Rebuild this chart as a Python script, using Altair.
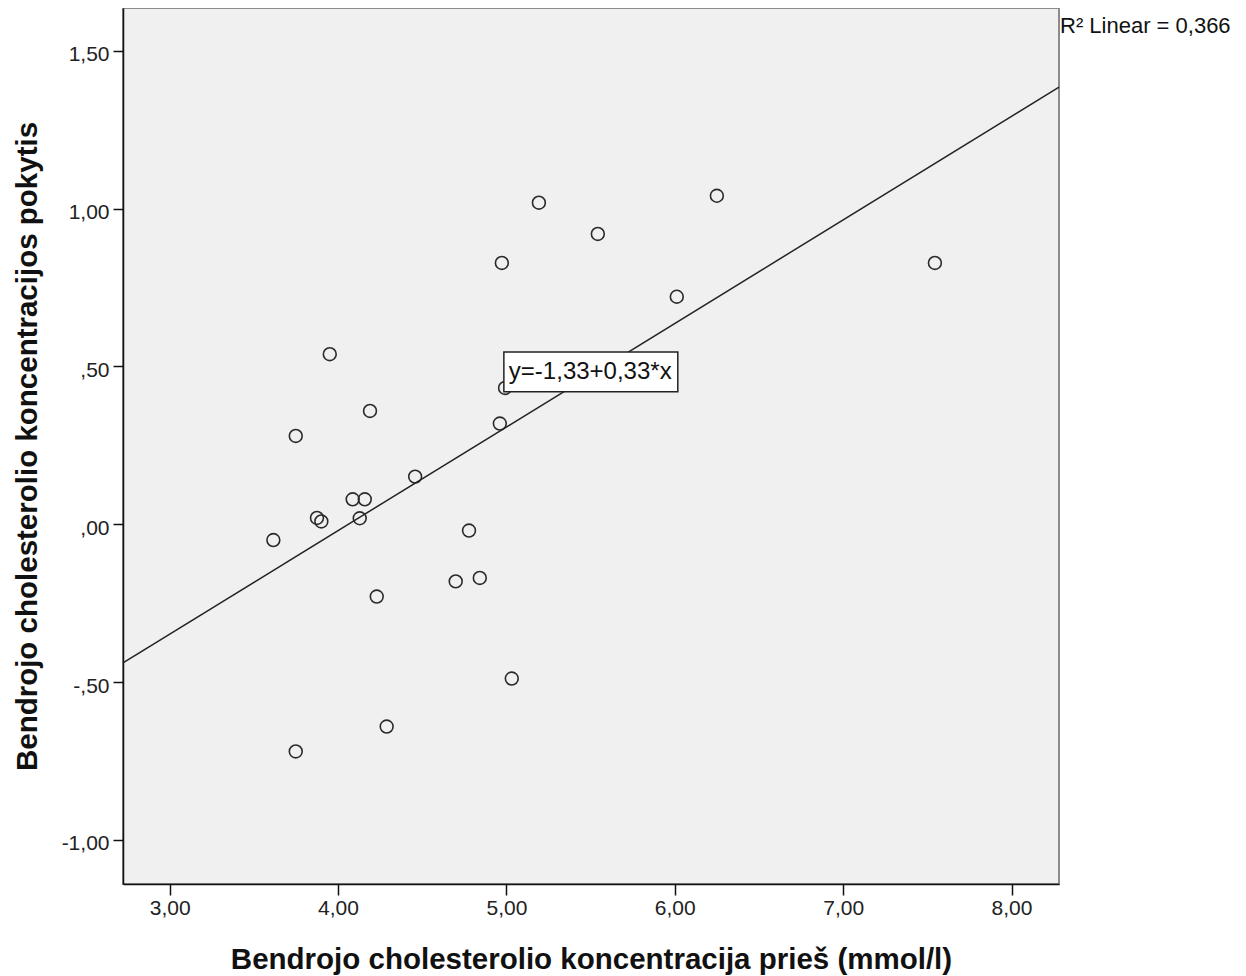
import altair as alt
import pandas as pd

# --- data ---
x_before = [3.749, 4.289, 5.032, 4.230, 4.699, 4.842, 4.778, 3.616, 3.875, 3.901,
            4.129, 4.087, 4.159, 4.458, 3.749, 4.190, 3.951, 4.961, 4.992, 4.973,
            5.193, 5.543, 6.012, 6.250, 7.545]
y_change = [-0.720, -0.641, -0.489, -0.229, -0.181, -0.170, -0.020, -0.050, 0.020, 0.009,
            0.019, 0.079, 0.079, 0.151, 0.280, 0.359, 0.539, 0.319, 0.432, 0.828,
            1.019, 0.920, 0.721, 1.041, 0.828]

x_ticks = [3.0, 4.0, 5.0, 6.0, 7.0, 8.0]
x_tick_labels = ["3,00", "4,00", "5,00", "6,00", "7,00", "8,00"]
y_ticks = [-1.0, -0.5, 0.0, 0.5, 1.0, 1.5]
y_tick_labels = ["-1,00", "-,50", ",00", ",50", "1,00", "1,50"]

x_domain = [2.723, 8.282]
y_domain = [-1.14, 1.636]

x_title = "Bendrojo cholesterolio koncentracija prieš (mmol/l)"
y_title = "Bendrojo cholesterolio koncentracijos pokytis"

equation_text = ["y=-1,33+0,33*x"]
eq_center = [5.498, 0.481]
eq_box_x = [4.985, 6.018]
eq_box_y = [0.420, 0.546]
r2_text = ["R² Linear = 0,366"]

FONT = "Liberation Sans"
W, H = 936, 876


def label_expr(values, labels):
    v = ",".join(repr(float(a)) for a in values)
    l = ",".join("'" + s + "'" for s in labels)
    return f"[{l}][indexof([{v}], datum.value)]"


df = pd.DataFrame({"x": x_before, "y": y_change})

xs = alt.Scale(domain=x_domain, zero=False, nice=False)
ys = alt.Scale(domain=y_domain, zero=False, nice=False)

x_axis = alt.Axis(values=x_ticks, labelExpr=label_expr(x_ticks, x_tick_labels),
                  tickSize=11, labelPadding=2, title=x_title,
                  titleX=W / 2, titleY=84, titleBaseline="alphabetic", titleAlign="center")
y_axis = alt.Axis(values=y_ticks, labelExpr=label_expr(y_ticks, y_tick_labels),
                  tickSize=10, labelPadding=4, labelOffset=4, title=y_title,
                  titleX=-87, titleY=H / 2, titleAngle=-90, titleBaseline="alphabetic",
                  titleAlign="center")

base = alt.Chart(df)

points = base.mark_point(shape="circle", filled=False, size=165, strokeWidth=1.6,
                         color="#2a2a2a", opacity=1).encode(
    x=alt.X("x:Q", scale=xs, axis=x_axis),
    y=alt.Y("y:Q", scale=ys, axis=y_axis),
)

line = base.transform_regression("x", "y", extent=x_domain).mark_line(
    color="#222222", strokeWidth=1.5).encode(
    x=alt.X("x:Q", scale=xs),
    y=alt.Y("y:Q", scale=ys),
)

box_df = pd.DataFrame({"x1": [eq_box_x[0]], "x2": [eq_box_x[1]],
                       "y1": [eq_box_y[0]], "y2": [eq_box_y[1]]})
box = alt.Chart(box_df).mark_rect(fill="white", stroke="#222222", strokeWidth=1.5).encode(
    x=alt.X("x1:Q", scale=xs), x2="x2:Q",
    y=alt.Y("y1:Q", scale=ys), y2="y2:Q",
)

eq_df = pd.DataFrame({"x": [eq_center[0]], "y": [eq_center[1]], "t": equation_text})
eq = alt.Chart(eq_df).mark_text(font=FONT, fontSize=24, color="#111111",
                                align="center", baseline="middle").encode(
    x=alt.X("x:Q", scale=xs), y=alt.Y("y:Q", scale=ys), text="t:N")

r2_df = pd.DataFrame({"t": r2_text})
r2 = alt.Chart(r2_df).mark_text(font=FONT, fontSize=22, color="#111111",
                                align="left", baseline="middle").encode(
    x=alt.value(W + 1), y=alt.value(18), text="t:N")

chart = alt.layer(points, line, box, eq, r2).properties(
    width=W, height=H,
    autosize=alt.AutoSizeParams(type="none"),
    padding={"left": 115, "top": 0, "right": 178, "bottom": 92},
).configure_view(
    fill="#f0f0f0", stroke="#8c8c8c", strokeWidth=2
).configure_axis(
    grid=False, domainColor="#111111", domainWidth=1.5,
    tickColor="#111111", tickWidth=1.5,
    labelFont=FONT, labelFontSize=21, labelColor="#222222",
    titleFont=FONT, titleFontSize=29.5, titleFontWeight="bold", titleColor="#111111",
)

chart.save("out.html", embed_options={"renderer": "svg", "actions": False})
